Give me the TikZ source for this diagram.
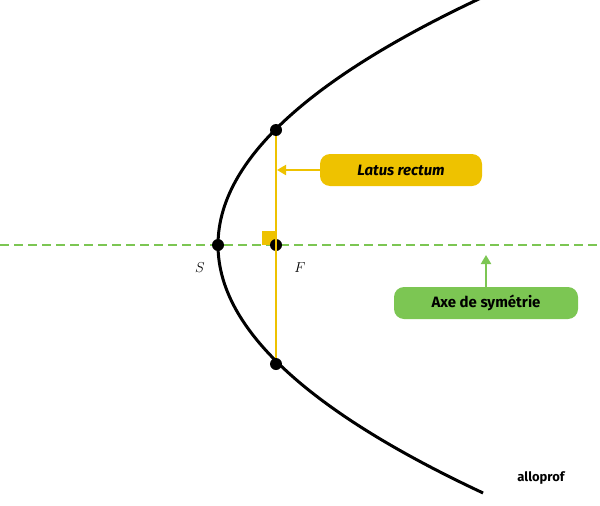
\documentclass[tikz,border=0pt]{standalone}
\usepackage{fontspec}
\setsansfont{Fira Sans}
\usetikzlibrary{arrows.meta}
\definecolor{ylw}{HTML}{EEC200}
\definecolor{grn}{HTML}{7CC653}
\begin{document}
\begin{tikzpicture}[x=1pt,y=-1pt,
  dot/.style={circle,fill=black,inner sep=0pt,minimum size=12pt},
  tag/.style={rounded corners=10pt,inner sep=0pt,minimum height=32pt,font=\sffamily\bfseries\fontsize{15}{15}\selectfont},
  lbl/.style={font=\fontsize{15}{15}\selectfont}]
\useasboundingbox (0,0) rectangle (600,506);
\draw[grn,line width=2pt,dash pattern=on 9pt off 5pt] (0,245) -- (600,245);
\draw[line width=3pt,domain=-26.2:24.8,samples=120,smooth,variable=\t] plot ({218+\t*\t/2.32},{245+10*\t});
\fill[ylw] (262,231) rectangle (276,245);
\node[dot] (T) at (276,130) {};
\node[dot] (B) at (276,364) {};
\node[dot] (S) at (218,245) {};
\node[dot] (F) at (276,245) {};
\draw[ylw,line width=2pt] (T) -- (B);
\node[lbl] (SL) at (200,268) {$S$};
\node[lbl] (FL) at (300,268) {$F$};
\node[tag,fill=ylw,minimum width=162pt] (LR) at (401,170) {\itshape Latus rectum};
\coordinate (LRE) at (277,170);
\draw[ylw,line width=2pt,-{Triangle[length=9pt,width=10pt]}] (LR) -- (LRE);
\node[tag,fill=grn,minimum width=184pt] (AX) at (486,303) {Axe de symétrie};
\coordinate (AXE) at (486,255);
\draw[grn,line width=2pt,-{Triangle[length=9pt,width=10pt]}] (AX) -- (AXE);
\node[font=\sffamily\bfseries\fontsize{13}{13}\selectfont] (logo) at (541,478) {alloprof};
\end{tikzpicture}
\end{document}
